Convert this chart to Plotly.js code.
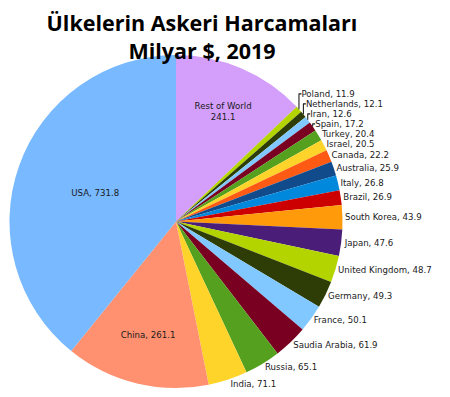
<!DOCTYPE html>
<html>
<head>
<meta charset="utf-8">
<script src="https://cdn.plot.ly/plotly-3.0.1.min.js"></script>
<style>html,body{margin:0;padding:0;background:#fff;}</style>
</head>
<body>
<div id="chart" style="width:450px;height:397px;"></div>
<script>
const countries = ["Rest of World","Poland","Netherlands","Iran","Spain","Turkey","Israel","Canada","Australia","Italy","Brazil","South Korea","Japan","United Kingdom","Germany","France","Saudia Arabia","Russia","India","China","USA"];
const spending = [241.1,11.9,12.1,12.6,17.2,20.4,20.5,22.2,25.9,26.8,26.9,43.9,47.6,48.7,49.3,50.1,61.9,65.1,71.1,261.1,731.8];
const sliceColors = ["#d49ffb","#b4d400","#2e3d05","#80c8ff","#7a0021","#56a01f","#ffd42a","#ff5a14","#124b8c","#0089dc","#cc0000","#ff9a0a","#4a1e78","#b4d400","#2e3d05","#80c8ff","#7a0021","#56a01f","#ffd42a","#ff9070","#78b9ff"];
const insideSlices = ["Rest of World","China","USA"];

const labelText = countries.map((c, i) => c === "Rest of World" ? c + "<br>" + spending[i] : c + ", " + spending[i]);
const positions = countries.map(c => insideSlices.includes(c) ? "inside" : "outside");

const trace = {
  type: "pie",
  labels: countries,
  values: spending,
  text: labelText,
  textinfo: "text",
  textposition: positions,
  insidetextorientation: "horizontal",
  sort: false,
  direction: "clockwise",
  rotation: 0,
  marker: {colors: sliceColors, line: {width: 0}},
  textfont: {family: "DejaVu Sans", size: 8.6, color: "#1a1a1a"},
  outsidetextfont: {family: "DejaVu Sans", size: 8.6, color: "#1a1a1a"},
  insidetextfont: {family: "DejaVu Sans", size: 8.6, color: "#1a1a1a"},
  domain: {x: [0, 352/450], y: [0, 1]},
  hoverinfo: "none",
  showlegend: false
};

const layout = {
  width: 450,
  height: 397,
  margin: {l: 0, r: 0, t: 55, b: 9},
  paper_bgcolor: "#ffffff",
  plot_bgcolor: "#ffffff",
  title: {
    text: "<b>Ülkelerin Askeri Harcamaları<br>Milyar $, 2019</b>",
    font: {family: "Open Sans", size: 21.5, color: "#000000"},
    x: 202/450,
    xanchor: "center",
    xref: "paper",
    y: 1 - 31/397,
    yref: "container",
    yanchor: "top"
  },
  showlegend: false
};

Plotly.newPlot("chart", [trace], layout, {displayModeBar: false, staticPlot: true});
</script>
</body>
</html>
